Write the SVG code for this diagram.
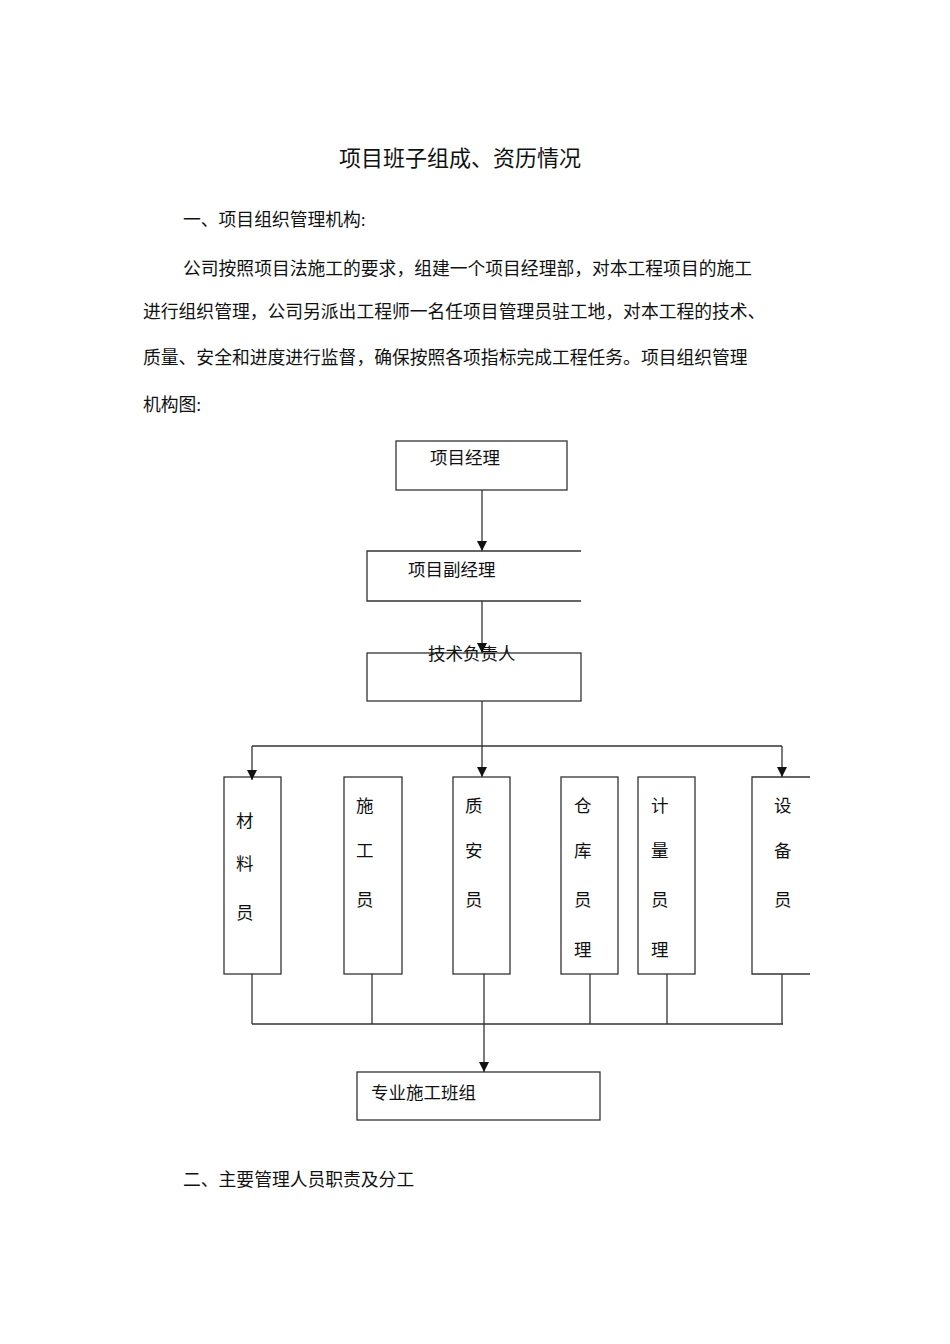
<svg xmlns="http://www.w3.org/2000/svg" width="950" height="1344" viewBox="0 0 950 1344">
<style>
text{font-family:"Liberation Serif","Noto Sans CJK SC",serif;fill:#111}
.p{font-size:17.8px}
.n{font-size:17.5px}
.b{fill:none;stroke:#333;stroke-width:1.3}
.c{fill:none;stroke:#333;stroke-width:1.3}
</style>
<defs><marker id="a" viewBox="0 0 10 10" refX="10" refY="5" markerWidth="10" markerHeight="10" markerUnits="userSpaceOnUse" orient="auto"><path d="M0,0L10,5L0,10z" fill="#111"/></marker></defs>
<rect width="950" height="1344" fill="#fff"/>
<text x="460" y="166" font-size="22" text-anchor="middle">项目班子组成、资历情况</text>
<text class="p" x="183" y="226">一、项目组织管理机构:</text>
<text class="p" x="183" y="275">公司按照项目法施工的要求，组建一个项目经理部，对本工程项目的施工</text>
<text class="p" x="143" y="318">进行组织管理，公司另派出工程师一名任项目管理员驻工地，对本工程的技术、</text>
<text class="p" x="143" y="364">质量、安全和进度进行监督，确保按照各项指标完成工程任务。项目组织管理</text>
<text class="p" x="143" y="411">机构图:</text>
<g id="n1"><rect class="b" x="396" y="441" width="171" height="49"/><text class="n" x="430" y="464">项目经理</text></g>
<g id="n2"><path class="b" d="M581,551H367V601H581"/><text class="n" x="408" y="576">项目副经理</text></g>
<g id="n3"><rect class="b" x="367" y="653" width="214" height="48"/><text class="n" x="428" y="660">技术负责人</text></g>
<g id="m1"><rect class="b" x="224" y="777" width="57" height="197"/><text class="n" x="236" y="827">材</text><text class="n" x="236" y="870">料</text><text class="n" x="236" y="919">员</text></g>
<g id="m2"><rect class="b" x="344" y="777" width="58" height="197"/><text class="n" x="356" y="812">施</text><text class="n" x="356" y="857">工</text><text class="n" x="356" y="906">员</text></g>
<g id="m3"><rect class="b" x="453" y="777" width="57" height="197"/><text class="n" x="465" y="812">质</text><text class="n" x="465" y="857">安</text><text class="n" x="465" y="906">员</text></g>
<g id="m4"><rect class="b" x="561" y="777" width="57" height="197"/><text class="n" x="574" y="812">仓</text><text class="n" x="574" y="857">库</text><text class="n" x="574" y="906">员</text><text class="n" x="574" y="956">理</text></g>
<g id="m5"><rect class="b" x="638" y="777" width="57" height="197"/><text class="n" x="651" y="812">计</text><text class="n" x="651" y="857">量</text><text class="n" x="651" y="906">员</text><text class="n" x="651" y="956">理</text></g>
<g id="m6"><path class="b" d="M810,777H752V974H810"/><text class="n" x="774" y="812">设</text><text class="n" x="774" y="857">备</text><text class="n" x="774" y="906">员</text></g>
<g id="n4"><rect class="b" x="357" y="1072" width="243" height="48"/><text class="n" x="371" y="1099">专业施工班组</text></g>
<g id="edges">
<path class="c" d="M482,490V551" marker-end="url(#a)"/>
<path class="c" d="M482,601V653" marker-end="url(#a)"/>
<path class="c" d="M482,701V777" marker-end="url(#a)"/>
<path class="c" d="M252,746H782"/>
<path class="c" d="M252,746V780" marker-end="url(#a)"/>
<path class="c" d="M782,746V777" marker-end="url(#a)"/>
<path class="c" d="M252,974V1024M372,974V1024M590,974V1024M667,974V1024M782,974V1024M252,1024H783"/>
<path class="c" d="M484,974V1072" marker-end="url(#a)"/>
</g>
<text class="p" x="183" y="1186">二、主要管理人员职责及分工</text>
</svg>
